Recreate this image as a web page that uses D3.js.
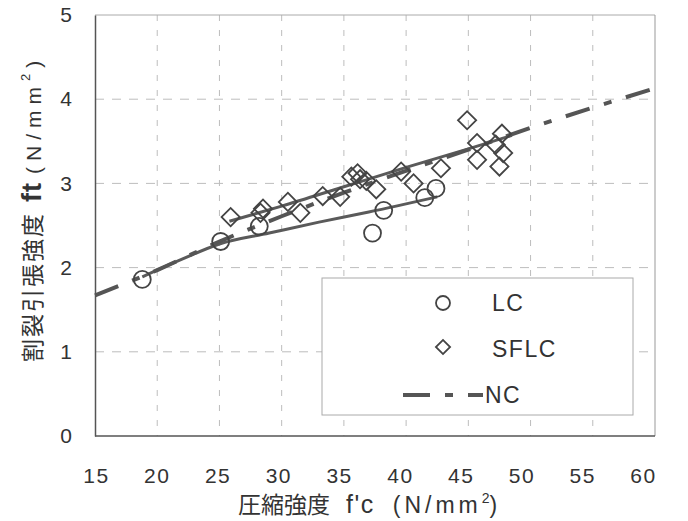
<!DOCTYPE html>
<html>
<head>
<meta charset="utf-8">
<script src="https://cdn.jsdelivr.net/npm/d3@7"></script>
<style>
  body { margin: 0; background: #fff; }
  text { fill: #333; }
</style>
</head>
<body>
<div id="main-frame"></div>
<script>
// LC (lightweight concrete) test points
const lcFc = [18.8, 25.1, 28.2, 37.3, 38.2, 41.5, 42.4];
const lcFt = [1.86, 2.31, 2.49, 2.41, 2.68, 2.83, 2.94];

// SFLC test points
const sflcFc = [25.9, 28.5, 28.3, 30.5, 31.5, 33.3, 34.7, 35.6, 36.1, 36.3, 36.8, 37.6, 39.6, 40.6, 42.8, 44.9, 45.7, 45.7, 47.7, 47.2, 47.8, 47.5];
const sflcFt = [2.60, 2.70, 2.65, 2.78, 2.65, 2.85, 2.84, 3.08, 3.12, 3.05, 3.03, 2.93, 3.14, 3.00, 3.18, 3.75, 3.48, 3.28, 3.59, 3.46, 3.36, 3.20];

// fitted curves
const lcFitFc = [18.8, 22, 25, 29, 33, 37, 42.5];
const lcFitFt = [1.89, 2.10, 2.28, 2.41, 2.54, 2.66, 2.84];
const sflcFitFc = [25.8, 30, 35, 40, 45, 48.5];
const sflcFitFt = [2.55, 2.73, 2.96, 3.19, 3.41, 3.57];
const ncFc = [15, 20, 25, 30, 35, 40, 45, 50, 55, 60];
const ncFt = [1.67, 1.97, 2.31, 2.61, 2.89, 3.15, 3.40, 3.66, 3.90, 4.13];

const xTicks = [15, 20, 25, 30, 35, 40, 45, 50, 55, 60];
const yTicks = [0, 1, 2, 3, 4, 5];
const legendItems = ["LC", "SFLC", "NC"];

const W = 688, H = 521;
const margin = { top: 15, right: 33, bottom: 85, left: 95 };
const width = W - margin.left - margin.right;
const height = H - margin.top - margin.bottom;

const svg = d3.select("#main-frame")
  .append("svg")
  .attr("width", W)
  .attr("height", H);

const g = svg.append("g")
  .attr("transform", `translate(${margin.left}, ${margin.top})`);

const x = d3.scaleLinear().domain([15, 60]).range([0, width]);
const y = d3.scaleLinear().domain([0, 5]).range([height, 0]);
// the scanned tick labels sit a little tighter than the grid
const xLab = d3.scaleLinear().domain([15, 60]).range([1, width - 12]);

// grid
g.append("g")
  .selectAll("line")
  .data(xTicks.slice(1, -1))
  .join("line")
  .attr("x1", d => x(d)).attr("x2", d => x(d))
  .attr("y1", 0).attr("y2", height)
  .attr("stroke", "#bdbdbd")
  .attr("stroke-dasharray", "6,9");

g.append("g")
  .selectAll("line")
  .data(yTicks.slice(1, -1))
  .join("line")
  .attr("x1", 0).attr("x2", width)
  .attr("y1", d => y(d)).attr("y2", d => y(d))
  .attr("stroke", "#bdbdbd")
  .attr("stroke-dasharray", "9,8");

// frame
g.append("line").attr("x1", 0).attr("x2", width).attr("y1", 0).attr("y2", 0)
  .attr("stroke", "#aaa");
g.append("line").attr("x1", width).attr("x2", width).attr("y1", 0).attr("y2", height)
  .attr("stroke", "#999");

// axes
const xAxis = d3.axisBottom(xLab).tickValues(xTicks).tickSize(0).tickPadding(32);
g.append("g")
  .attr("transform", `translate(0, ${height})`)
  .call(xAxis)
  .call(a => a.select(".domain").remove())
  .selectAll("text")
  .attr("font-family", "Liberation Sans, Arial, sans-serif")
  .attr("font-size", 21)
  .attr("letter-spacing", 1.5)
  .attr("fill", "#333");

g.append("line").attr("x1", 0).attr("x2", width).attr("y1", height).attr("y2", height)
  .attr("stroke", "#555").attr("stroke-width", 1.5);

const yAxis = d3.axisLeft(y).tickValues(yTicks).tickFormat(d3.format("d")).tickSize(0).tickPadding(23);
g.append("g")
  .call(yAxis)
  .call(a => a.select(".domain").attr("stroke", "#555").attr("stroke-width", 1.5))
  .selectAll("text")
  .attr("font-family", "Liberation Sans, Arial, sans-serif")
  .attr("font-size", 21)
  .attr("fill", "#333");

// curves
const line = d3.line()
  .x(d => x(d[0]))
  .y(d => y(d[1]))
  .curve(d3.curveMonotoneX);

g.append("path")
  .datum(lcFitFc.map((d, i) => [d, lcFitFt[i]]))
  .attr("d", line)
  .attr("fill", "none")
  .attr("stroke", "#5a5a5a")
  .attr("stroke-width", 3);

g.append("path")
  .datum(sflcFitFc.map((d, i) => [d, sflcFitFt[i]]))
  .attr("d", line)
  .attr("fill", "none")
  .attr("stroke", "#5a5a5a")
  .attr("stroke-width", 3);

g.append("path")
  .datum(ncFc.map((d, i) => [d, ncFt[i]]))
  .attr("d", line)
  .attr("fill", "none")
  .attr("stroke", "#555")
  .attr("stroke-width", 4)
  .attr("stroke-dasharray", "25,15,8,15");

// points
g.append("g")
  .selectAll("circle")
  .data(lcFc.map((d, i) => [d, lcFt[i]]))
  .join("circle")
  .attr("cx", d => x(d[0]))
  .attr("cy", d => y(d[1]))
  .attr("r", 8.5)
  .attr("fill", "none")
  .attr("stroke", "#444")
  .attr("stroke-width", 1.8);

const diamond = d3.symbol().type(d3.symbolSquare).size(165);
g.append("g")
  .selectAll("path")
  .data(sflcFc.map((d, i) => [d, sflcFt[i]]))
  .join("path")
  .attr("d", diamond)
  .attr("transform", d => `translate(${x(d[0])}, ${y(d[1])}) rotate(45)`)
  .attr("fill", "none")
  .attr("stroke", "#444")
  .attr("stroke-width", 1.8);

// legend
const legend = svg.append("g").attr("transform", "translate(322, 278)");
legend.append("rect")
  .attr("width", 311).attr("height", 137)
  .attr("fill", "#fff")
  .attr("stroke", "#aaa");

legend.append("circle")
  .attr("cx", 121).attr("cy", 25).attr("r", 7)
  .attr("fill", "none").attr("stroke", "#444").attr("stroke-width", 1.8);
legend.append("path")
  .attr("d", d3.symbol().type(d3.symbolSquare).size(100))
  .attr("transform", "translate(121, 69) rotate(45)")
  .attr("fill", "none").attr("stroke", "#444").attr("stroke-width", 1.8);
legend.append("line")
  .attr("x1", 81).attr("x2", 161).attr("y1", 117).attr("y2", 117)
  .attr("stroke", "#555").attr("stroke-width", 4)
  .attr("stroke-dasharray", "27,15,8,15");

legend.selectAll("text")
  .data(legendItems)
  .join("text")
  .attr("x", (d, i) => i === 2 ? 163 : 170)
  .attr("y", (d, i) => 25 + i * 46)
  .attr("dy", "0.36em")
  .attr("font-family", "Liberation Sans, Arial, sans-serif")
  .attr("font-size", 23)
  .attr("letter-spacing", 1.5)
  .text(d => d);

// axis titles
const latin = "Liberation Sans, Arial, sans-serif";
const xt = svg.append("text")
  .attr("x", 238)
  .attr("y", 513)
  .attr("font-family", "Noto Sans CJK JP, sans-serif")
  .attr("font-size", 23);
xt.append("tspan").text("圧縮強度");
xt.append("tspan").attr("dx", 16).attr("font-family", latin).attr("font-size", 25).attr("letter-spacing", 1.5).text("f'c");
xt.append("tspan").attr("dx", 18).attr("font-family", latin).attr("font-size", 23).attr("letter-spacing", 4).text("(N/mm");
xt.append("tspan").attr("font-family", latin).attr("font-size", 14).attr("dy", -10).text("2");
xt.append("tspan").attr("font-family", latin).attr("font-size", 23).attr("dy", 10).text(")");

const yt = svg.append("text")
  .attr("transform", "translate(41, 362) rotate(-90)")
  .attr("font-family", "Noto Sans CJK JP, sans-serif")
  .attr("font-size", 23)
  .attr("letter-spacing", 2);
yt.append("tspan").text("割裂引張強度");
yt.append("tspan").attr("dx", 10).attr("font-family", latin).attr("font-weight", "bold").attr("font-size", 27).attr("letter-spacing", 1).text("ft");
yt.append("tspan").attr("dx", 8).attr("font-family", latin).attr("font-size", 21).attr("letter-spacing", 6).text("(N/mm");
yt.append("tspan").attr("font-family", latin).attr("font-size", 13).attr("dy", -11).text("2");
yt.append("tspan").attr("font-family", latin).attr("font-size", 21).attr("dy", 11).attr("dx", 4).text(")");
</script>
</body>
</html>
